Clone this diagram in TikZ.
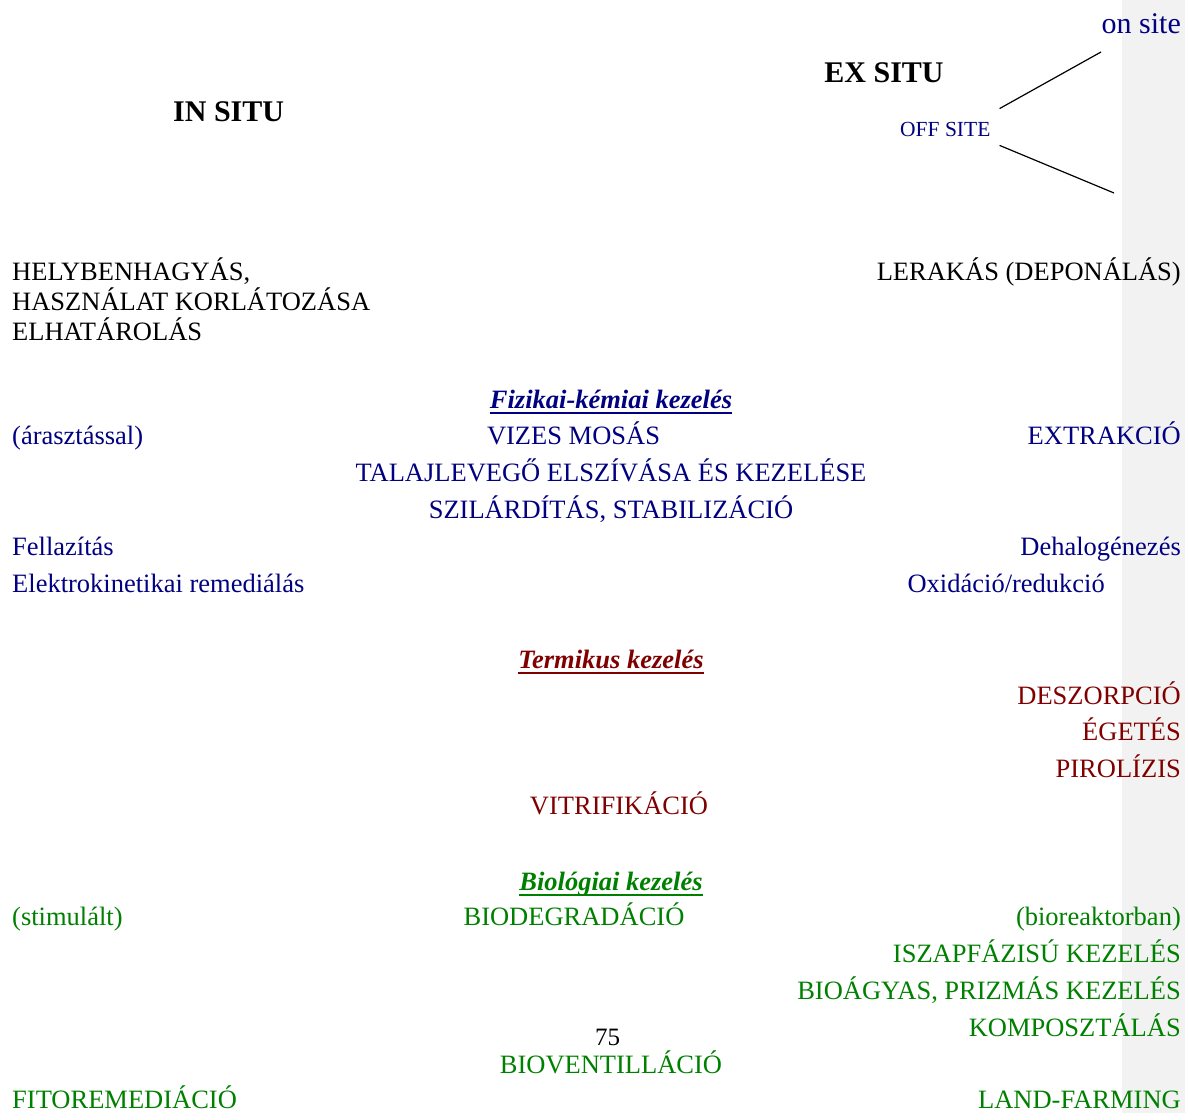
\documentclass[tikz,border=0pt]{standalone}
\usepackage{fontspec}
\setmainfont{Liberation Serif}
\usepackage{tikz}
\usetikzlibrary{positioning}
\definecolor{sotetkek}{RGB}{0,0,128}
\definecolor{bordo}{RGB}{128,0,0}
\definecolor{zold}{RGB}{0,128,0}
\definecolor{sav}{RGB}{242,242,242}

\begin{document}
\begin{tikzpicture}[x=1pt,y=-1pt,
  every node/.style={inner sep=0pt, font=\fontsize{26.5}{30}\selectfont},
  cim/.style={font=\fontsize{30}{34}\selectfont\bfseries},
  fejlec/.style={font=\fontsize{26.5}{30}\selectfont\bfseries\itshape, anchor=base},
  fiz/.style={text=sotetkek},
  term/.style={text=bordo},
  bio/.style={text=zold}]

\useasboundingbox (0,0) rectangle (1185,1113);

% Grey band at the right margin
\fill[sav] (1122,0) rectangle (1185,1113);

% In situ / ex situ
\node[cim, anchor=base west] (insitu) at (173,121.5) {IN SITU};
\node[cim, anchor=base] (exsitu) at (884,83) {EX SITU};
\node[fiz, anchor=base east, font=\fontsize{30}{34}\selectfont] (onsite) at (1181,33.5) {on site};
\node[fiz, anchor=base west, font=\fontsize{21.5}{25}\selectfont] (offsite) at (900,136) {OFF SITE};

% Branches next to off site
\coordinate (ag1) at ([xshift=9pt,yshift=13pt]offsite.north east);
\coordinate (ag2) at ([xshift=9pt,yshift=-9pt]offsite.south east);
\coordinate (vege1) at (1101,52);
\coordinate (vege2) at (1114,193);
\draw[line width=1.2pt] (ag1) -- (vege1);
\draw[line width=1.2pt] (ag2) -- (vege2);

% Leave in place / deposit
\node[anchor=base west] (hely) at (12,280) {HELYBENHAGYÁS,};
\node[anchor=base west] (haszn) at (12,310) {HASZNÁLAT KORLÁTOZÁSA};
\node[anchor=base west] (elhat) at (12,340) {ELHATÁROLÁS};
\node[anchor=base east] (lerak) at (1181,280) {LERAKÁS (DEPONÁLÁS)};

% Physical-chemical treatment
\node[fejlec, fiz] (fizfej) at (611,408) {Fizikai-kémiai kezelés};
\draw[sotetkek, line width=2pt] ([yshift=-4.5pt]fizfej.base west) -- ([yshift=-4.5pt]fizfej.base east);
\node[fiz, anchor=base west] (araszt) at (12,444.5) {(árasztással)};
\node[fiz, anchor=base] (vizes) at (573.5,444.5) {VIZES MOSÁS};
\node[fiz, anchor=base east] (extr) at (1181,444.5) {EXTRAKCIÓ};
\node[fiz, anchor=base] (talaj) at (611,481) {TALAJLEVEGŐ ELSZÍVÁSA ÉS KEZELÉSE};
\node[fiz, anchor=base] (szil) at (611,518) {SZILÁRDÍTÁS, STABILIZÁCIÓ};
\node[fiz, anchor=base west] (fellaz) at (12,555) {Fellazítás};
\node[fiz, anchor=base east] (dehal) at (1181,555) {Dehalogénezés};
\node[fiz, anchor=base west] (elektro) at (12,592.5) {Elektrokinetikai remediálás};
\node[fiz, anchor=base east] (oxid) at (1105,592.5) {Oxidáció/redukció};

% Thermal treatment
\node[fejlec, term] (termfej) at (611,668) {Termikus kezelés};
\draw[bordo, line width=2pt] ([yshift=-4.5pt]termfej.base west) -- ([yshift=-4.5pt]termfej.base east);
\node[term, anchor=base east] (deszorp) at (1181,704) {DESZORPCIÓ};
\node[term, anchor=base east] (eget) at (1181,740) {ÉGETÉS};
\node[term, anchor=base east] (pirol) at (1181,777) {PIROLÍZIS};
\node[term, anchor=base] (vitri) at (619,814.5) {VITRIFIKÁCIÓ};

% Biological treatment
\node[fejlec, bio] (biofej) at (611,890) {Biológiai kezelés};
\draw[zold, line width=2pt] ([yshift=-4.5pt]biofej.base west) -- ([yshift=-4.5pt]biofej.base east);
\node[bio, anchor=base west] (stim) at (12,925) {(stimulált)};
\node[bio, anchor=base] (biodeg) at (574,925) {BIODEGRADÁCIÓ};
\node[bio, anchor=base east] (bioreak) at (1181,925) {(bioreaktorban)};
\node[bio, anchor=base east] (iszap) at (1181,962) {ISZAPFÁZISÚ KEZELÉS};
\node[bio, anchor=base east] (bioagy) at (1181,999) {BIOÁGYAS, PRIZMÁS KEZELÉS};
\node[bio, anchor=base east] (kompo) at (1181,1036) {KOMPOSZTÁLÁS};
\node[anchor=base, font=\fontsize{25}{29}\selectfont] (oldal) at (607.5,1045) {75};
\node[bio, anchor=base] (biovent) at (611,1073) {BIOVENTILLÁCIÓ};
\node[bio, anchor=base west] (fito) at (12,1108) {FITOREMEDIÁCIÓ};
\node[bio, anchor=base east] (landf) at (1181,1108) {LAND-FARMING};

\end{tikzpicture}
\end{document}
